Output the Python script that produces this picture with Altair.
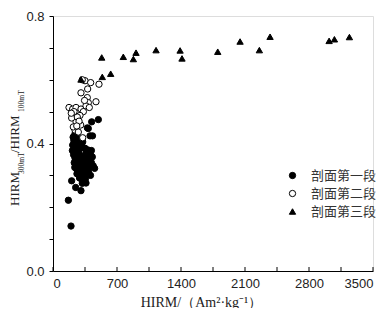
import altair as alt
import pandas as pd

# ---- data ----
s1_x = [168, 197, 204, 248, 306, 361, 376, 423, 496, 405, 432, 386,
        215, 230, 245, 262, 278, 250, 300, 318, 235, 270, 290, 325, 212, 255,
        350, 380, 400, 420, 360,
        225, 240, 260, 280, 300, 320, 340, 365, 390, 410, 430,
        232, 250, 270, 290, 310, 330, 350, 372, 395, 420,
        238, 258, 278, 298, 318, 340, 360, 380, 405, 440, 455,
        262, 285, 305, 325, 345, 365, 388, 410,
        290, 312, 335, 355, 320, 340,
        220, 240, 252, 228, 268]
s1_y = [0.222, 0.141, 0.283, 0.262, 0.252, 0.276, 0.449, 0.468, 0.475, 0.424, 0.424, 0.447,
        0.395, 0.402, 0.410, 0.418, 0.405, 0.392, 0.398, 0.390, 0.385, 0.388, 0.382, 0.405, 0.378, 0.372,
        0.385, 0.380, 0.375, 0.378, 0.370,
        0.365, 0.355, 0.360, 0.368, 0.362, 0.355, 0.350, 0.360, 0.352, 0.365, 0.358,
        0.340, 0.345, 0.338, 0.345, 0.335, 0.342, 0.332, 0.340, 0.335, 0.340,
        0.325, 0.320, 0.330, 0.318, 0.325, 0.315, 0.322, 0.318, 0.325, 0.330, 0.322,
        0.305, 0.310, 0.302, 0.308, 0.298, 0.305, 0.310, 0.300,
        0.292, 0.288, 0.285, 0.290, 0.275, 0.280,
        0.420, 0.430, 0.440, 0.410, 0.395]

s2_x = [175, 215, 252, 306, 350, 412, 379, 306, 503, 470, 375, 386, 361, 397, 332,
        295, 252, 303, 241, 277, 325, 204, 222, 266, 230, 285, 345, 320, 200, 260]
s2_y = [0.513, 0.508, 0.513, 0.508, 0.597, 0.591, 0.571, 0.559, 0.586, 0.531, 0.544, 0.528, 0.518, 0.513, 0.500,
        0.488, 0.468, 0.458, 0.442, 0.436, 0.418, 0.480, 0.452, 0.483, 0.500, 0.470, 0.535, 0.600, 0.495, 0.455]

s3_x = [306, 539, 631, 533, 769, 879, 908, 1127, 1390, 1411, 1802, 2046, 2257, 2374, 3020, 3078, 3242]
s3_y = [0.601, 0.609, 0.619, 0.670, 0.672, 0.665, 0.685, 0.693, 0.692, 0.667, 0.688, 0.720, 0.693, 0.735, 0.722, 0.727, 0.734]

series_names = ["剖面第一段", "剖面第二段", "剖面第三段"]
series_shapes = ["circle", "circle", "triangle-up"]
series_fills = ["black", "white", "black"]
series_strokes = ["black", "black", "black"]

x_ticks = [0, 350, 700, 1050, 1400, 1750, 2100, 2450, 2800, 3150, 3500]
y_ticks = [0.0, 0.1, 0.2, 0.3, 0.4, 0.5, 0.6, 0.7, 0.8]

x_title = "HIRM/（Am²·kg⁻¹）"
y_title_parts = ["HIRM", "300mT", "/HIRM", "100mT"]

# ---- build table ----
rows = []
for name, xs, ys in zip(series_names, [s1_x, s2_x, s3_x], [s1_y, s2_y, s3_y]):
    for a, b in zip(xs, ys):
        rows.append({"x": a, "y": b, "series": name})
df = pd.DataFrame(rows)

W, H = 320, 255
TOP = 8
SERIF = "Liberation Serif"
SANS = "Liberation Sans"

xscale = alt.Scale(domain=[0, 3500], nice=False, zero=False)
yscale = alt.Scale(domain=[0, 0.8], nice=False, zero=False)

leg = dict(title=None, orient="none", legendX=233, legendY=153,
           labelFont="Noto Sans CJK SC", labelFontSize=13,
           labelColor="#333", labelOffset=12, rowPadding=4,
           symbolSize=40, symbolStrokeWidth=1, padding=0)

points = alt.Chart(df).mark_point(
    filled=True, strokeWidth=1, opacity=1, fillOpacity=1, size=40
).encode(
    x=alt.X("x:Q", scale=xscale,
            axis=alt.Axis(values=x_ticks, title=x_title, tickSize=0,
                          labelExpr="datum.value % 700 == 0 ? format(datum.value, 'd') : ''",
                          labelFont=SANS, labelFontSize=13, labelColor="#222",
                          labelPadding=6, grid=False, domainColor="black",
                          titleFont=SERIF, titleFontSize=14, titleFontWeight="normal",
                          titleColor="#222", titleX=148, titleY=35,
                          titleBaseline="alphabetic")),
    y=alt.Y("y:Q", scale=yscale,
            axis=alt.Axis(values=y_ticks, title=None, tickSize=4, tickColor="black",
                          labelExpr="(round(datum.value*10) % 4 == 0) ? format(datum.value, '.1f') : ''",
                          labelFont=SANS, labelFontSize=13, labelColor="#222",
                          labelPadding=5, grid=False, domainColor="black")),
    shape=alt.Shape("series:N", sort=series_names,
                    scale=alt.Scale(domain=series_names, range=series_shapes),
                    legend=alt.Legend(**leg)),
    fill=alt.Fill("series:N", sort=series_names,
                  scale=alt.Scale(domain=series_names, range=series_fills),
                  legend=alt.Legend(**leg)),
    stroke=alt.Stroke("series:N", sort=series_names,
                      scale=alt.Scale(domain=series_names, range=series_strokes),
                      legend=alt.Legend(**leg)),
)

# inward x ticks
xt = pd.DataFrame({"t": x_ticks})
xtick_rules = alt.Chart(xt).mark_rule(color="black", strokeWidth=1).encode(
    x=alt.X("t:Q", scale=xscale),
    y=alt.value(H),
    y2=alt.value(H - 4),
)

# y-axis title with subscripts
t_df = pd.DataFrame({"t": y_title_parts})
def piece(i, xpx, ypx, size):
    return alt.Chart(t_df).transform_filter(
        alt.datum.t == y_title_parts[i]
    ).mark_text(
        angle=270, align="left", baseline="alphabetic", font=SERIF,
        fontSize=size, color="#222"
    ).encode(x=alt.value(xpx), y=alt.value(ypx), text="t:N")

ytitle = (piece(0, -34, 190, 13) + piece(1, -29, 158, 7.5)
          + piece(2, -34, 137, 13) + piece(3, -29, 96, 7.5))

chart = alt.layer(points, xtick_rules, ytitle).properties(
    width=W, height=H,
    autosize=alt.AutoSizeParams(type="none"),
    padding={"left": 45, "top": TOP, "right": 8, "bottom": 300 - TOP - H},
).configure_view(stroke=None).configure(background="white")

chart.save("out.html", embed_options={"renderer": "svg", "actions": False})
